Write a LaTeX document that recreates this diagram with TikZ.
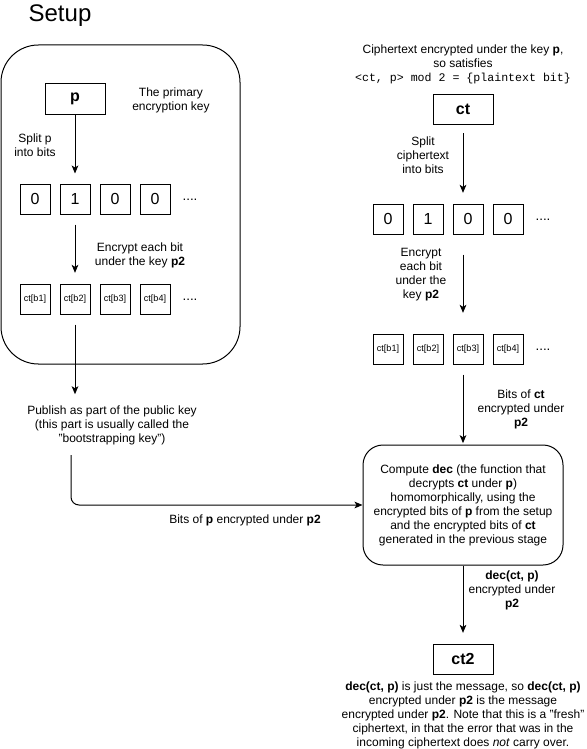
\documentclass[tikz,border=0pt]{standalone}
\usepackage{fontspec}
\setmainfont{Liberation Sans}
\setmonofont{Liberation Mono}
\usetikzlibrary{positioning,arrows.meta}

\begin{document}
\begin{tikzpicture}[x=0.75pt,y=-0.75pt,line width=0.75pt,
        lbl/.style={align=center,inner sep=0pt,font=\fontsize{9}{10.5}\selectfont},
        keybox/.style={draw=black,minimum width=45pt,minimum height=22.5pt,inner sep=0pt,font=\fontsize{12}{14}\selectfont\bfseries},
        bitbox/.style={draw=black,minimum size=22.5pt,inner sep=0pt,font=\fontsize{12}{14}\selectfont},
        encbox/.style={draw=black,minimum size=22.5pt,inner sep=0pt,font=\fontsize{6.8}{8}\selectfont},
        dots/.style={inner sep=0pt,font=\fontsize{10}{12}\selectfont},
        arr/.style={-{Stealth[length=6pt,width=5pt,inset=1.5pt]}},
        node distance=6.75pt]
        \useasboundingbox (0,0) rectangle (586,749);

        % setup column
        \node[inner sep=0pt,font=\fontsize{18}{20}\selectfont] (title) at (60,16) {Setup};
        \node[draw=black,rounded corners=28pt,minimum width=179.25pt,minimum height=239.25pt] (setup) at (120.5,204.5) {};
        \node[keybox] (p) at (75,99) {p};
        \node[lbl] (pnote) at (171,100) {The primary\\encryption key};
        \node[lbl] (psplit) at (35,145) {Split p\\into bits};

        \node[bitbox] (pb1) at (35,199) {0};
        \node[bitbox,right=of pb1] (pb2) {1};
        \node[bitbox,right=of pb2] (pb3) {0};
        \node[bitbox,right=of pb3] (pb4) {0};
        \node[dots] (pbdots) at (190,200) {....};

        \node[lbl] (penc) at (140,255) {Encrypt each bit\\under the key \textbf{p2}};

        \node[encbox] (pe1) at (35,299) {ct[b1]};
        \node[encbox,right=of pe1] (pe2) {ct[b2]};
        \node[encbox,right=of pe2] (pe3) {ct[b3]};
        \node[encbox,right=of pe3] (pe4) {ct[b4]};
        \node[dots] (pedots) at (190,300) {....};

        \node[lbl] (publish) at (112,425) {Publish as part of the public key\\(this part is usually called the\\"bootstrapping key")};
        \coordinate (pubout) at (71,455);
        \node[lbl] (pbits) at (245,520) {Bits of \textbf{p} encrypted under \textbf{p2}};

        % ciphertext column
        \node[lbl] (ctnote) at (463,64) {Ciphertext encrypted under the key \textbf{p},\\so satisfies\\{\fontsize{8.7}{10.5}\selectfont\ttfamily <ct, p> mod 2 = \{plaintext bit\}}};
        \node[keybox] (ct) at (463,109) {ct};
        \node[lbl] (ctsplit) at (423,155) {Split\\ciphertext\\into bits};

        \node[bitbox] (cb1) at (388,219) {0};
        \node[bitbox,right=of cb1] (cb2) {1};
        \node[bitbox,right=of cb2] (cb3) {0};
        \node[bitbox,right=of cb3] (cb4) {0};
        \node[dots] (cbdots) at (543,220) {....};

        \node[lbl] (ctenc) at (421,275) {Encrypt\\each bit\\under the\\key \textbf{p2}};

        \node[encbox] (ce1) at (388,349) {ct[b1]};
        \node[encbox,right=of ce1] (ce2) {ct[b2]};
        \node[encbox,right=of ce2] (ce3) {ct[b3]};
        \node[encbox,right=of ce3] (ce4) {ct[b4]};
        \node[dots] (cedots) at (543,350) {....};

        \node[lbl] (ctbits) at (521,409) {Bits of \textbf{ct}\\encrypted under\\\textbf{p2}};

        \node[draw=black,rounded corners=15pt,minimum width=150pt,minimum height=90pt,align=center,inner sep=0pt,font=\fontsize{9}{10.5}\selectfont] (compute) at (463,505)
            {Compute \textbf{dec} (the function that\\decrypts \textbf{ct} under \textbf{p})\\homomorphically, using the\\encrypted bits of \textbf{p} from the setup\\and the encrypted bits of \textbf{ct}\\generated in the previous stage};

        \node[lbl] (decnote) at (512,590) {\textbf{dec(ct, p)}\\encrypted under\\\textbf{p2}};
        \node[keybox] (ct2) at (463,659) {ct2};
        \node[lbl] (final) at (463,715) {\textbf{dec(ct, p)} is just the message, so \textbf{dec(ct, p)}\\encrypted under \textbf{p2} is the message\\encrypted under \textbf{p2}. Note that this is a "fresh"\\ciphertext, in that the error that was in the\\incoming ciphertext does \textit{not} carry over.};

        % arrows
        \draw[arr,shorten >=7.5pt] (p) -- (pb2);
        \draw[arr,shorten <=7.5pt,shorten >=8pt] (pb2) -- (pe2);
        \draw[arr,shorten <=7.5pt,shorten >=8pt] (pe2) -- (pe2 |- publish.north);
        \draw[arr,rounded corners=6pt] (pubout) |- (compute.west);

        \draw[arr,shorten <=6.5pt,shorten >=8pt] (ct.south) -- (ct.south |- cb3.north);
        \draw[arr,shorten <=15pt,shorten >=15.5pt] (ct.south |- cb3.south) -- (ct.south |- ce3.north);
        \draw[arr,shorten <=7.5pt,shorten >=1pt] (ct.south |- ce3.south) -- (compute.north);
        \draw[arr,shorten >=8pt] (compute) -- (ct2);
\end{tikzpicture}
\end{document}
